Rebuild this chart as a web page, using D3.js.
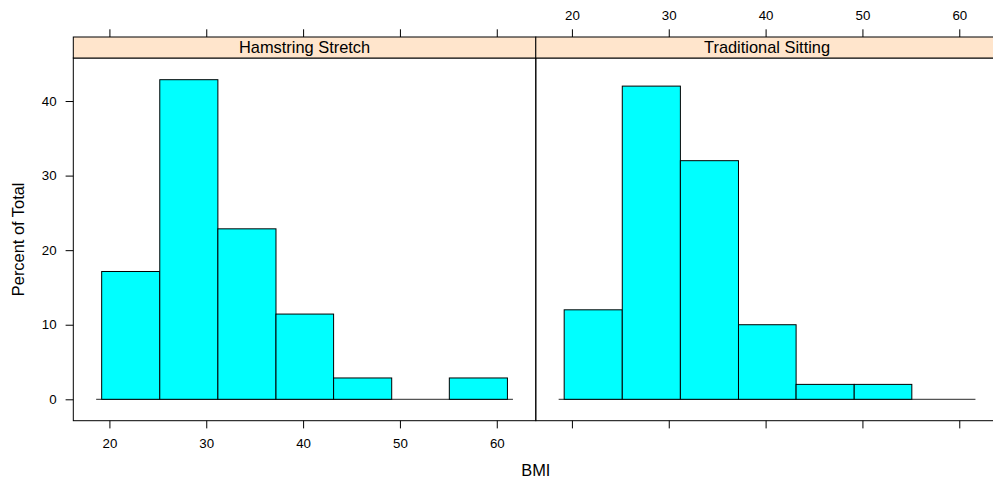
<!DOCTYPE html>
<html>
<head>
<meta charset="utf-8">
<script src="https://cdn.jsdelivr.net/npm/d3@7/dist/d3.min.js"></script>
<style>
  html, body { margin: 0; padding: 0; background: #fff; overflow: hidden; }
  svg { display: block; font-family: "Liberation Sans", Arial, Helvetica, sans-serif; }
</style>
</head>
<body>
<svg id="chart" width="993" height="479"></svg>
<script>
// Histogram data: BMI bins shared by both groups, percent of total per bin
const panels = ["Hamstring Stretch", "Traditional Sitting"];
const breaks = [19.2, 25.2, 31.2, 37.2, 43.15, 49.15, 55.1, 61.1];
const hamstringPct = [17.14, 42.86, 22.86, 11.43, 2.86, 0, 2.86];
const sittingPct = [12, 42, 32, 10, 2, 2, 0];
const xTicks = [20, 30, 40, 50, 60];
const yTicks = [0, 10, 20, 30, 40];
const xLabel = "BMI";
const yLabel = "Percent of Total";

const seriesByPanel = [hamstringPct, sittingPct];

// Layout
const panelLeft = 73.3, panelW = 462.5;
const stripTop = 37, stripBottom = 58, panelBottom = 420.7;
const tickLen = 7.7;
const fontTick = 13.3, fontLabel = 16.4;

const svg = d3.select("#chart");

const y = d3.scaleLinear().domain([-2.87, 45.77]).range([panelBottom, stripBottom]);

function styleAxis(sel) {
  sel.select(".domain").remove();
  sel.selectAll("text").attr("font-size", fontTick).attr("font-family", null).attr("fill", "#000");
  sel.selectAll("line").attr("stroke", "#000");
}

panels.forEach((name, i) => {
  const x0 = panelLeft + i * panelW;
  const x = d3.scaleLinear().domain([16.27, 64.03]).range([x0, x0 + panelW]);
  const g = svg.append("g");
  const vals = seriesByPanel[i];

  // zero baseline spanning the bins
  g.append("line")
    .attr("x1", x(breaks[0] - 0.57)).attr("x2", x(breaks[breaks.length - 1] + 0.57))
    .attr("y1", y(0)).attr("y2", y(0))
    .attr("stroke", "#555").attr("stroke-width", 1.2);

  // bars
  g.selectAll("rect.bar").data(vals).join("rect")
    .attr("class", "bar")
    .attr("x", (d, k) => x(breaks[k]))
    .attr("width", (d, k) => x(breaks[k + 1]) - x(breaks[k]))
    .attr("y", d => y(d))
    .attr("height", d => y(0) - y(d))
    .attr("fill", "#00FFFF")
    .attr("stroke", "#000").attr("stroke-width", 1);

  // panel frame
  g.append("rect")
    .attr("x", x0).attr("y", stripBottom)
    .attr("width", panelW).attr("height", panelBottom - stripBottom)
    .attr("fill", "none").attr("stroke", "#000").attr("stroke-width", 1);

  // strip
  g.append("rect")
    .attr("x", x0).attr("y", stripTop)
    .attr("width", panelW).attr("height", stripBottom - stripTop)
    .attr("fill", "#FFE5CC").attr("stroke", "#000").attr("stroke-width", 1);
  g.append("text")
    .attr("x", x0 + panelW / 2).attr("y", (stripTop + stripBottom) / 2)
    .attr("dy", "0.36em").attr("text-anchor", "middle")
    .attr("font-size", fontLabel).attr("fill", "#000")
    .text(name);

  // bottom axis: ticks on both panels, labels on the first
  const bottom = d3.axisBottom(x).tickValues(xTicks).tickSizeOuter(0).tickSize(tickLen).tickPadding(10)
    .tickFormat(i === 0 ? d3.format("d") : () => "");
  g.append("g").attr("transform", `translate(0,${panelBottom})`).call(bottom).call(styleAxis);

  // top axis: ticks on both panels, labels on the second
  const top = d3.axisTop(x).tickValues(xTicks).tickSizeOuter(0).tickSize(tickLen).tickPadding(9.3)
    .tickFormat(i === 1 ? d3.format("d") : () => "");
  g.append("g").attr("transform", `translate(0,${stripTop})`).call(top).call(styleAxis);

  if (i === 0) {
    const left = d3.axisLeft(y).tickValues(yTicks).tickSizeOuter(0).tickSize(tickLen).tickPadding(9)
      .tickFormat(d3.format("d"));
    g.append("g").attr("transform", `translate(${x0},0)`).call(left).call(styleAxis);
  }
});

// axis titles
svg.append("text")
  .attr("x", panelLeft + panelW).attr("y", 475.8)
  .attr("text-anchor", "middle")
  .attr("font-size", fontLabel).attr("fill", "#000")
  .text(xLabel);

svg.append("text")
  .attr("transform", `translate(18.5,${(stripBottom + panelBottom) / 2}) rotate(-90)`)
  .attr("dy", "0.36em").attr("text-anchor", "middle")
  .attr("font-size", fontLabel).attr("fill", "#000")
  .text(yLabel);
</script>
</body>
</html>
